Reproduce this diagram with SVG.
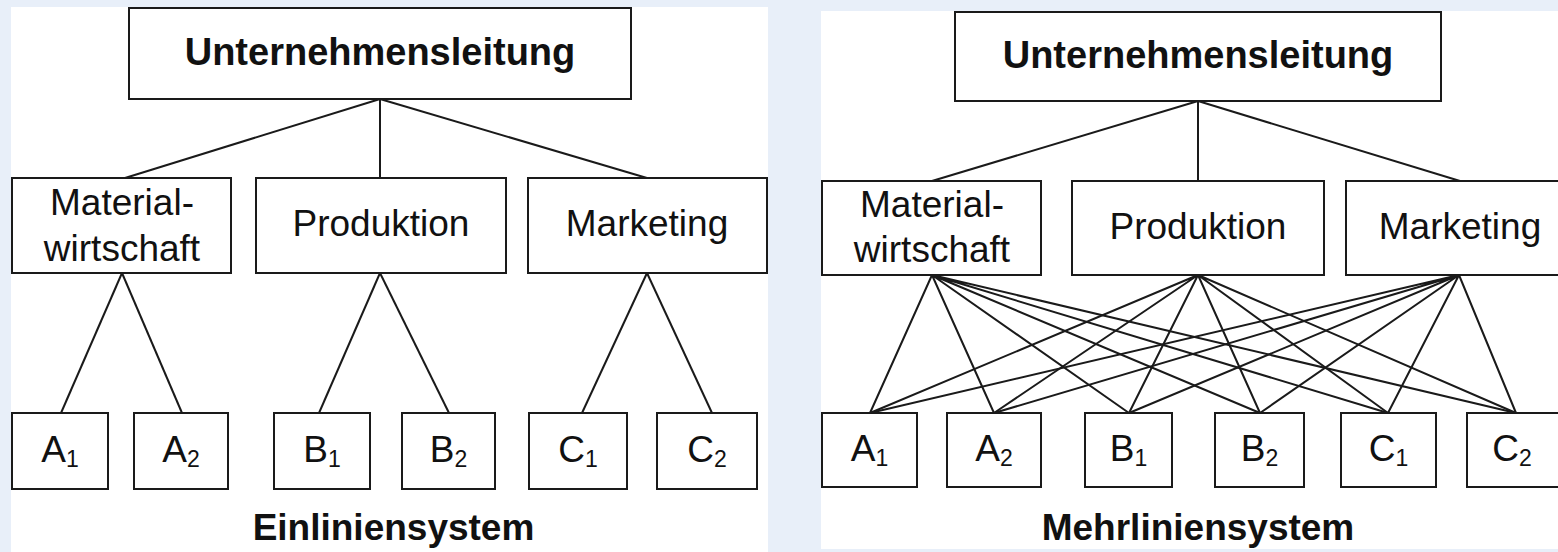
<svg xmlns="http://www.w3.org/2000/svg" width="1558" height="552" viewBox="0 0 1558 552">
  <style>
    .box { fill: #ffffff; stroke: #1a1a1a; stroke-width: 2; }
    .panel { fill: #ffffff; }
    .link { stroke: #1a1a1a; stroke-width: 2; fill: none; }
    .head { font-family: "Liberation Sans", Arial, sans-serif; font-weight: bold; font-size: 38px; fill: #111; text-anchor: middle; }
    .lbl { font-family: "Liberation Sans", Arial, sans-serif; font-size: 37px; fill: #111; text-anchor: middle; }
    .sub { font-size: 23px; }
    .cap { font-family: "Liberation Sans", Arial, sans-serif; font-weight: bold; font-size: 37px; fill: #111; text-anchor: middle; }
  </style>

  <!-- background and panels -->
  <rect x="0" y="0" width="1558" height="552" fill="#e8eff9"/>
  <rect class="panel" x="11" y="7" width="757" height="545"/>
  <rect class="panel" x="821" y="11" width="737" height="538"/>

  <!-- ===== Einliniensystem ===== -->
  <g id="left-connectors">
    <line class="link" x1="380" y1="99" x2="125" y2="178"/>
    <line class="link" x1="380" y1="99" x2="380" y2="178"/>
    <line class="link" x1="380" y1="99" x2="647" y2="178"/>
    <line class="link" x1="122" y1="273" x2="61" y2="413"/>
    <line class="link" x1="122" y1="273" x2="182" y2="413"/>
    <line class="link" x1="380" y1="273" x2="319" y2="413"/>
    <line class="link" x1="380" y1="273" x2="449" y2="413"/>
    <line class="link" x1="647" y1="273" x2="582" y2="413"/>
    <line class="link" x1="647" y1="273" x2="712" y2="413"/>
  </g>

  <g id="l-leitung">
    <rect class="box" x="129" y="8" width="502" height="91"/>
    <text class="head" x="380" y="65">Unternehmensleitung</text>
  </g>
  <g id="l-material">
    <rect class="box" x="12" y="178" width="219" height="95"/>
    <text class="lbl" x="122" y="215">Material-</text>
    <text class="lbl" x="122" y="261">wirtschaft</text>
  </g>
  <g id="l-produktion">
    <rect class="box" x="256" y="178" width="250" height="95"/>
    <text class="lbl" x="381" y="236">Produktion</text>
  </g>
  <g id="l-marketing">
    <rect class="box" x="528" y="178" width="239" height="95"/>
    <text class="lbl" x="647" y="236">Marketing</text>
  </g>
  <g id="l-a1">
    <rect class="box" x="12" y="413" width="96" height="76"/>
    <text class="lbl" x="60" y="462">A<tspan class="sub" dy="5">1</tspan></text>
  </g>
  <g id="l-a2">
    <rect class="box" x="134" y="413" width="94" height="76"/>
    <text class="lbl" x="181" y="462">A<tspan class="sub" dy="5">2</tspan></text>
  </g>
  <g id="l-b1">
    <rect class="box" x="274" y="413" width="96" height="76"/>
    <text class="lbl" x="322" y="462">B<tspan class="sub" dy="5">1</tspan></text>
  </g>
  <g id="l-b2">
    <rect class="box" x="402" y="413" width="93" height="76"/>
    <text class="lbl" x="448.5" y="462">B<tspan class="sub" dy="5">2</tspan></text>
  </g>
  <g id="l-c1">
    <rect class="box" x="529" y="413" width="98" height="76"/>
    <text class="lbl" x="578" y="462">C<tspan class="sub" dy="5">1</tspan></text>
  </g>
  <g id="l-c2">
    <rect class="box" x="657" y="413" width="100" height="76"/>
    <text class="lbl" x="707" y="462">C<tspan class="sub" dy="5">2</tspan></text>
  </g>
  <text id="l-caption" class="cap" x="393.5" y="540">Einliniensystem</text>

  <!-- ===== Mehrliniensystem ===== -->
  <g id="right-connectors">
    <line class="link" x1="1198" y1="101" x2="932" y2="181"/>
    <line class="link" x1="1198" y1="101" x2="1198" y2="181"/>
    <line class="link" x1="1198" y1="101" x2="1460" y2="181"/>
    <!-- every department reaches every unit -->
    <path class="link" d="M932 275 L870 413 M932 275 L994 413 M932 275 L1129 413 M932 275 L1260 413 M932 275 L1388 413 M932 275 L1516 413"/>
    <path class="link" d="M1198 275 L870 413 M1198 275 L994 413 M1198 275 L1129 413 M1198 275 L1260 413 M1198 275 L1388 413 M1198 275 L1516 413"/>
    <path class="link" d="M1459 275 L870 413 M1459 275 L994 413 M1459 275 L1129 413 M1459 275 L1260 413 M1459 275 L1388 413 M1459 275 L1516 413"/>
  </g>

  <g id="r-leitung">
    <rect class="box" x="955" y="12" width="486" height="89"/>
    <text class="head" x="1198" y="68">Unternehmensleitung</text>
  </g>
  <g id="r-material">
    <rect class="box" x="822" y="181" width="219" height="94"/>
    <text class="lbl" x="932" y="217">Material-</text>
    <text class="lbl" x="932" y="262">wirtschaft</text>
  </g>
  <g id="r-produktion">
    <rect class="box" x="1072" y="181" width="252" height="94"/>
    <text class="lbl" x="1198" y="239">Produktion</text>
  </g>
  <g id="r-marketing">
    <rect class="box" x="1346" y="181" width="220" height="94"/>
    <text class="lbl" x="1460" y="239">Marketing</text>
  </g>
  <g id="r-a1">
    <rect class="box" x="822" y="413" width="95" height="74"/>
    <text class="lbl" x="869.5" y="461">A<tspan class="sub" dy="5">1</tspan></text>
  </g>
  <g id="r-a2">
    <rect class="box" x="947" y="413" width="94" height="74"/>
    <text class="lbl" x="994" y="461">A<tspan class="sub" dy="5">2</tspan></text>
  </g>
  <g id="r-b1">
    <rect class="box" x="1085" y="413" width="87" height="74"/>
    <text class="lbl" x="1128.5" y="461">B<tspan class="sub" dy="5">1</tspan></text>
  </g>
  <g id="r-b2">
    <rect class="box" x="1215" y="413" width="89" height="74"/>
    <text class="lbl" x="1259.5" y="461">B<tspan class="sub" dy="5">2</tspan></text>
  </g>
  <g id="r-c1">
    <rect class="box" x="1341" y="413" width="95" height="74"/>
    <text class="lbl" x="1388.5" y="461">C<tspan class="sub" dy="5">1</tspan></text>
  </g>
  <g id="r-c2">
    <rect class="box" x="1467" y="413" width="100" height="74"/>
    <text class="lbl" x="1512" y="461">C<tspan class="sub" dy="5">2</tspan></text>
  </g>
  <text id="r-caption" class="cap" x="1198" y="540">Mehrliniensystem</text>
</svg>
